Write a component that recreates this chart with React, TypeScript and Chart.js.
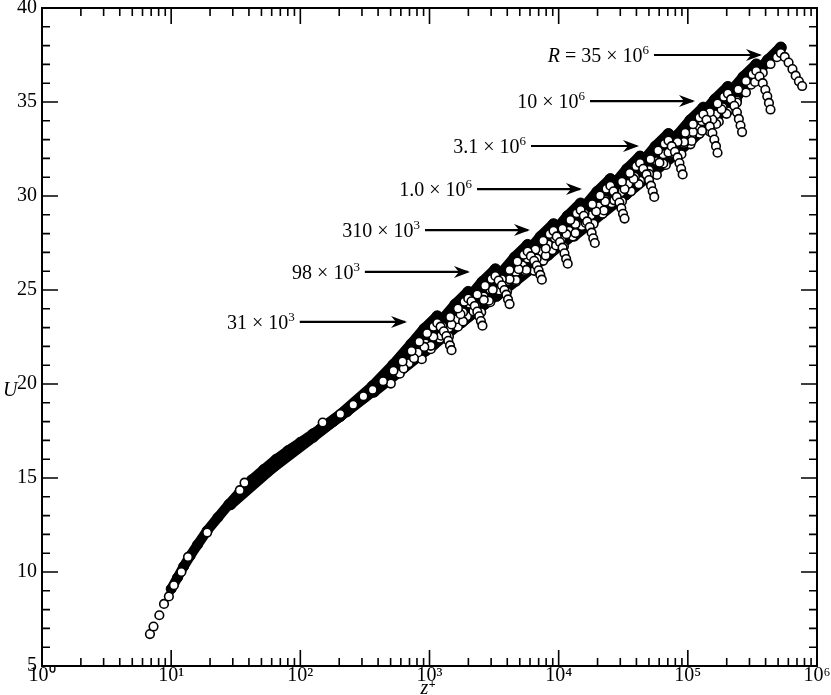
import React, { useEffect, useRef } from 'react';
import { Chart, registerables } from 'chart.js';

Chart.register(...registerables);

// ---------- data ----------
const reynoldsNames = ['31e3', '55e3', '98e3', '170e3', '310e3', '550e3', '1.0e6', '1.8e6', '3.1e6', '5.5e6', '10e6', '18e6', '35e6'];

const xTickValues = [1, 10, 100, 1000, 10000, 100000, 1000000];
const yTickValues = [5, 10, 15, 20, 25, 30, 35, 40];

// near-wall points (lowest Reynolds number)
const innerOpenZ = [6.85, 7.3, 8.1, 8.8, 9.6, 10.5, 12.0, 13.5, 19, 34, 37, 149];
const innerOpenU = [6.7, 7.1, 7.7, 8.3, 8.7, 9.3, 10.0, 10.8, 12.1, 14.35, 14.75, 17.95];
const innerFilledZ = [10, 11.2, 12.5, 14, 16, 19, 23, 28, 34, 42, 52, 65, 80, 100, 125, 160, 200, 260, 330, 420];
const innerFilledU = [9.1, 9.7, 10.3, 10.85, 11.45, 12.2, 12.9, 13.6, 14.25, 14.9, 15.45, 16.0, 16.45, 16.9, 17.35, 17.85, 18.3, 18.9, 19.45, 20.0];

// open-circle profiles: wake region, centre line and traverse past it
const openZ: number[][] = [
  [204, 257, 308, 363, 437, 526, 618, 726, 833, 957, 1073, 1148, 1218, 1290, 1351, 1398, 1441, 1481],
  [631, 758, 912, 1071, 1259, 1445, 1660, 1862, 1995, 2113, 2239, 2344, 2426, 2500, 2570],
  [1023, 1230, 1479, 1738, 2042, 2343, 2692, 3019, 3236, 3427, 3631, 3802, 3935, 4055, 4168],
  [1820, 2187, 2630, 3090, 3631, 4166, 4787, 5369, 5754, 6093, 6456, 6761, 6997, 7210, 7411],
  [2884, 3467, 4169, 4898, 5754, 6603, 7588, 8510, 9120, 9658, 10230, 10720, 11090, 11430, 11750],
  [4677, 5623, 6761, 7943, 9333, 10710, 12300, 13800, 14790, 15660, 16600, 17380, 17990, 18530, 19050],
  [7943, 9550, 11480, 13490, 15850, 18200, 20890, 23440, 25120, 26600, 28180, 29520, 30550, 31480, 32360],
  [13490, 16220, 19500, 22910, 26920, 30900, 35480, 39810, 42660, 45180, 47860, 50120, 51880, 53450, 54950],
  [22390, 26920, 32360, 38020, 44670, 51290, 58880, 66070, 70790, 74970, 79430, 83180, 86100, 88720, 91200],
  [41690, 50120, 60260, 70790, 83180, 95500, 109600, 123000, 131800, 139600, 147900, 154900, 160300, 165200, 169800],
  [64570, 77620, 93330, 109600, 128800, 147900, 169800, 190500, 204200, 216300, 229100, 239900, 248300, 255900, 263000],
  [107200, 128800, 154900, 182000, 213800, 245500, 281800, 316200, 338800, 358900, 380200, 398100, 412100, 424600, 436500],
  [165900, 199400, 239900, 281800, 331100, 380200, 436500, 489800, 524800, 562600, 602500, 645500, 683800, 724200, 767300],
];
const openU: number[][] = [
  [18.4, 18.9, 19.35, 19.7, 20.15, 20.7, 21.2, 21.75, 22.25, 22.7, 23.05, 23.25, 23.05, 22.8, 22.55, 22.3, 22.05, 21.8],
  [20.83, 21.37, 21.97, 22.51, 23.07, 23.56, 24.02, 24.38, 24.55, 24.4, 24.15, 23.85, 23.6, 23.35, 23.1],
  [22.03, 22.57, 23.17, 23.71, 24.27, 24.76, 25.22, 25.58, 25.75, 25.5, 25.25, 25.0, 24.75, 24.5, 24.25],
  [23.33, 23.87, 24.47, 25.01, 25.57, 26.06, 26.52, 26.88, 27.05, 26.8, 26.55, 26.3, 26.05, 25.8, 25.55],
  [24.43, 24.97, 25.57, 26.11, 26.67, 27.16, 27.62, 27.98, 28.15, 27.85, 27.55, 27.25, 26.95, 26.65, 26.4],
  [25.53, 26.07, 26.67, 27.21, 27.77, 28.26, 28.72, 29.08, 29.25, 28.95, 28.65, 28.35, 28.05, 27.75, 27.5],
  [26.83, 27.37, 27.97, 28.51, 29.07, 29.56, 30.02, 30.38, 30.55, 30.25, 29.95, 29.65, 29.35, 29.05, 28.8],
  [28.03, 28.57, 29.17, 29.71, 30.27, 30.76, 31.22, 31.58, 31.75, 31.45, 31.15, 30.85, 30.55, 30.25, 29.95],
  [29.23, 29.77, 30.37, 30.91, 31.47, 31.96, 32.42, 32.78, 32.95, 32.65, 32.35, 32.05, 31.75, 31.45, 31.15],
  [30.63, 31.17, 31.77, 32.31, 32.87, 33.36, 33.82, 34.18, 34.35, 34.05, 33.7, 33.35, 33.0, 32.65, 32.3],
  [31.73, 32.27, 32.87, 33.41, 33.97, 34.46, 34.92, 35.28, 35.45, 35.15, 34.8, 34.45, 34.1, 33.75, 33.4],
  [32.93, 33.47, 34.07, 34.61, 35.17, 35.66, 36.12, 36.48, 36.65, 36.35, 36.0, 35.65, 35.3, 34.95, 34.6],
  [33.83, 34.37, 34.97, 35.51, 36.07, 36.56, 37.02, 37.38, 37.6, 37.4, 37.1, 36.75, 36.4, 36.1, 35.85],
];

// second (repeat) open-circle traverse through the outer region of each profile
const repeatZ: number[][] = [
  [502, 589, 692, 813, 933, 1047],
  [872, 1023, 1203, 1412, 1622, 1819],
  [1414, 1660, 1951, 2291, 2631, 2951],
  [2514, 2952, 3470, 4074, 4678, 5248],
  [3985, 4679, 5499, 6457, 7415, 8317],
  [6463, 7587, 8918, 10470, 12020, 13490],
  [10980, 12890, 15150, 17790, 20420, 22910],
  [18640, 21880, 25720, 30200, 34680, 38910],
  [30940, 36320, 42690, 50120, 57550, 64560],
  [57600, 67610, 79480, 93310, 107200, 120200],
  [89240, 104800, 123100, 144600, 166000, 186200],
  [148100, 173800, 204300, 239900, 275400, 309000],
];
const repeatU: number[][] = [
  [20.02, 20.55, 21.11, 21.68, 22.15, 22.52],
  [21.32, 21.85, 22.41, 22.98, 23.45, 23.82],
  [22.52, 23.05, 23.61, 24.18, 24.65, 25.02],
  [23.82, 24.35, 24.91, 25.48, 25.95, 26.32],
  [24.92, 25.45, 26.01, 26.58, 27.05, 27.42],
  [26.02, 26.55, 27.11, 27.68, 28.15, 28.52],
  [27.32, 27.85, 28.41, 28.98, 29.45, 29.82],
  [28.52, 29.05, 29.61, 30.18, 30.65, 31.02],
  [29.72, 30.25, 30.81, 31.38, 31.85, 32.22],
  [31.12, 31.65, 32.21, 32.78, 33.25, 33.62],
  [32.22, 32.75, 33.31, 33.88, 34.35, 34.72],
  [33.42, 33.95, 34.51, 35.08, 35.55, 35.92],
];

// filled-circle profiles: overlap (log) region up to the centre line
const filledZ: number[][] = [
  [28.8, 72.4, 181, 363, 525, 724, 912, 1148],
  [50, 126, 315, 631, 912, 1259, 1585, 1995],
  [81, 204, 511, 1023, 1479, 2042, 2570, 3236],
  [144, 363, 909, 1820, 2630, 3631, 4569, 5754],
  [229, 575, 1441, 2884, 4168, 5755, 7241, 9120],
  [371, 933, 2337, 4677, 6759, 9333, 11740, 14790],
  [631, 1585, 3969, 7943, 11480, 15850, 19950, 25120],
  [1071, 2692, 6740, 13490, 19500, 26920, 33870, 42660],
  [1777, 4467, 11180, 22390, 32350, 44670, 56210, 70790],
  [3308, 8317, 20820, 41690, 60230, 83170, 104600, 131800],
  [5125, 12880, 32260, 64570, 93320, 128900, 162100, 204200],
  [8504, 21380, 53530, 107100, 154800, 213800, 269000, 338800],
  [13170, 33110, 82920, 165800, 239800, 331100, 416700, 524800],
];
const filledU: number[][] = [
  [13.6, 16.0, 18.05, 19.88, 21.02, 22.12, 22.93, 23.6],
  [15.1, 17.2, 19.32, 21.18, 22.32, 23.42, 24.23, 24.9],
  [16.35, 18.3, 20.52, 22.38, 23.52, 24.62, 25.43, 26.1],
  [17.6, 19.65, 21.82, 23.68, 24.82, 25.92, 26.73, 27.4],
  [18.55, 20.68, 22.92, 24.78, 25.92, 27.02, 27.83, 28.5],
  [19.59, 21.78, 24.02, 25.88, 27.02, 28.12, 28.93, 29.6],
  [20.89, 23.08, 25.32, 27.18, 28.32, 29.42, 30.23, 30.9],
  [22.09, 24.28, 26.52, 28.38, 29.52, 30.62, 31.43, 32.1],
  [23.29, 25.48, 27.72, 29.58, 30.72, 31.82, 32.63, 33.3],
  [24.69, 26.88, 29.12, 30.98, 32.12, 33.22, 34.03, 34.7],
  [25.79, 27.98, 30.22, 32.08, 33.22, 34.32, 35.13, 35.8],
  [26.99, 29.18, 31.42, 33.28, 34.42, 35.52, 36.33, 37.0],
  [27.89, 30.08, 32.32, 34.18, 35.32, 36.42, 37.23, 37.9],
];

// annotation labels (Reynolds numbers)
const labelPrefix = ['', '', '', '', '', '', 'R'];
const labelMain = ['31 × 10', '98 × 10', '310 × 10', '1.0 × 10', '3.1 × 10', '10 × 10', ' = 35 × 10'];
const labelExp = ['3', '3', '3', '6', '6', '6', '6'];
// arrow geometry in data units (tip z, start z, level U)
const arrowTipZ = [670, 2056, 5998, 15150, 41870, 113600, 375000];
const arrowStartZ = [99, 316, 923, 2333, 6107, 17480, 54700];
const arrowU = [23.3, 25.96, 28.19, 30.37, 32.66, 35.05, 37.5];

const SERIF = "'Liberation Serif', 'Times New Roman', serif";
const SUP: Record<string, string> = { '0': '⁰', '1': '¹', '2': '²', '3': '³', '4': '⁴', '5': '⁵', '6': '⁶' };

const framePlugin = {
  id: 'frameTicks',
  afterDraw(chart: any) {
    const { ctx, chartArea: a, scales } = chart;
    const xs = scales.x;
    const ys = scales.y;
    ctx.save();
    ctx.strokeStyle = '#000';
    ctx.lineWidth = 1.6;
    ctx.beginPath();
    for (let d = 0; d < 6; d++) {
      for (let m = 1; m <= 9; m++) {
        const v = m * Math.pow(10, d);
        if (v <= 1) continue;
        const px = xs.getPixelForValue(v);
        const len = m === 1 ? 16 : 8;
        ctx.moveTo(px, a.bottom);
        ctx.lineTo(px, a.bottom - len);
        ctx.moveTo(px, a.top);
        ctx.lineTo(px, a.top + len);
      }
    }
    for (let v = 6; v < 40; v++) {
      const py = ys.getPixelForValue(v);
      const len = v % 5 === 0 ? 16 : 8;
      ctx.moveTo(a.left, py);
      ctx.lineTo(a.left + len, py);
      ctx.moveTo(a.right, py);
      ctx.lineTo(a.right - len, py);
    }
    ctx.stroke();
    ctx.lineWidth = 2;
    ctx.strokeRect(a.left, a.top, a.right - a.left, a.bottom - a.top);

    // axis titles
    ctx.fillStyle = '#000';
    ctx.textBaseline = 'alphabetic';
    ctx.textAlign = 'left';
    ctx.font = `italic 20px ${SERIF}`;
    ctx.fillText('U', 3, 396);
    const zx = (a.left + a.right) / 2 - 9;
    ctx.fillText('z', zx, 694);
    const zw = ctx.measureText('z').width;
    ctx.font = `bold 12px ${SERIF}`;
    ctx.fillText('+', zx + zw + 0.5, 688);

    // Reynolds-number labels with arrows
    labelMain.forEach((main, i) => {
      const y = ys.getPixelForValue(arrowU[i]);
      const x0 = xs.getPixelForValue(arrowStartZ[i]);
      const x1 = xs.getPixelForValue(arrowTipZ[i]);
      ctx.lineWidth = 2.2;
      ctx.beginPath();
      ctx.moveTo(x0, y);
      ctx.lineTo(x1 - 2, y);
      ctx.stroke();
      ctx.beginPath();
      ctx.moveTo(x1, y);
      ctx.lineTo(x1 - 16, y - 6);
      ctx.lineTo(x1 - 11, y);
      ctx.lineTo(x1 - 16, y + 6);
      ctx.closePath();
      ctx.fill();

      ctx.font = `13px ${SERIF}`;
      const ew = ctx.measureText(labelExp[i]).width;
      ctx.font = `20px ${SERIF}`;
      const mw = ctx.measureText(main).width;
      ctx.font = `italic 20px ${SERIF}`;
      const pw = labelPrefix[i] ? ctx.measureText(labelPrefix[i]).width : 0;
      const right = x0 - 5;
      let tx = right - ew - mw - pw;
      const base = y + 7;
      if (labelPrefix[i]) {
        ctx.fillText(labelPrefix[i], tx, base);
        tx += pw;
      }
      ctx.font = `20px ${SERIF}`;
      ctx.fillText(main, tx, base);
      tx += mw;
      ctx.font = `13px ${SERIF}`;
      ctx.fillText(labelExp[i], tx, base - 8);
    });
    ctx.restore();
  },
};

export default function App() {
  const ref = useRef<HTMLCanvasElement>(null);
  useEffect(() => {
    if (!ref.current) return;
    const openStyle = {
      showLine: false,
      pointRadius: 4.3,
      pointBackgroundColor: '#fff',
      pointBorderColor: '#000',
      pointBorderWidth: 1.6,
      order: 0,
    };
    const filledStyle = {
      showLine: true,
      borderColor: '#000',
      borderWidth: 11,
      borderJoinStyle: 'round' as const,
      borderCapStyle: 'round' as const,
      pointRadius: 5.5,
      pointBackgroundColor: '#000',
      pointBorderColor: '#000',
      pointBorderWidth: 1,
      tension: 0,
      order: 1,
    };
    const datasets: any[] = [];
    datasets.push({
      label: 'open near wall',
      data: innerOpenZ.map((z, k) => ({ x: z, y: innerOpenU[k] })),
      ...openStyle,
    });
    openZ.forEach((zs, i) => {
      datasets.push({
        label: `open R=${reynoldsNames[i]}`,
        data: zs.map((z, k) => ({ x: z, y: openU[i][k] })),
        ...openStyle,
      });
    });
    repeatZ.forEach((zs, i) => {
      datasets.push({
        label: `open repeat R=${reynoldsNames[i]}`,
        data: zs.map((z, k) => ({ x: z, y: repeatU[i][k] })),
        ...openStyle,
      });
    });
    datasets.push({
      label: 'filled near wall',
      data: innerFilledZ.map((z, k) => ({ x: z, y: innerFilledU[k] })),
      ...filledStyle,
      borderWidth: 10,
      pointRadius: 5,
    });
    filledZ.forEach((zs, i) => {
      datasets.push({
        label: `filled R=${reynoldsNames[i]}`,
        data: zs.map((z, k) => ({ x: z, y: filledU[i][k] })),
        ...filledStyle,
      });
    });

    const chart = new Chart(ref.current, {
      type: 'scatter',
      data: { datasets },
      options: {
        animation: false,
        responsive: true,
        maintainAspectRatio: false,
        events: [],
        layout: { padding: { top: 8, right: 14, left: 0, bottom: 0 } },
        plugins: { legend: { display: false }, tooltip: { enabled: false } },
        scales: {
          x: {
            type: 'logarithmic',
            min: 1,
            max: 1000000,
            grid: { display: false, drawTicks: false },
            border: { display: false },
            afterBuildTicks: (s: any) => {
              s.ticks = xTickValues.map((v) => ({ value: v }));
            },
            afterFit: (s: any) => {
              s.height = 29;
              s.paddingLeft = 0;
              s.paddingRight = 0;
            },
            ticks: {
              autoSkip: false,
              maxRotation: 0,
              padding: -2,
              color: '#000',
              font: { family: SERIF, size: 20 },
              callback: (v: any) => '10' + SUP[String(Math.round(Math.log10(Number(v))))],
            },
          },
          y: {
            type: 'linear',
            min: 5,
            max: 40,
            grid: { display: false, drawTicks: false },
            border: { display: false },
            afterBuildTicks: (s: any) => {
              s.ticks = yTickValues.map((v) => ({ value: v }));
            },
            afterFit: (s: any) => {
              s.width = 42;
              s.paddingTop = 0;
              s.paddingBottom = 0;
            },
            ticks: {
              padding: 5,
              color: '#000',
              font: { family: SERIF, size: 20 },
            },
          },
        },
      },
      plugins: [framePlugin],
    });
    return () => chart.destroy();
  }, []);

  return (
    <div style={{ position: 'absolute', left: 0, top: 0, width: 831, height: 695, background: '#fff' }}>
      <canvas ref={ref} />
    </div>
  );
}
